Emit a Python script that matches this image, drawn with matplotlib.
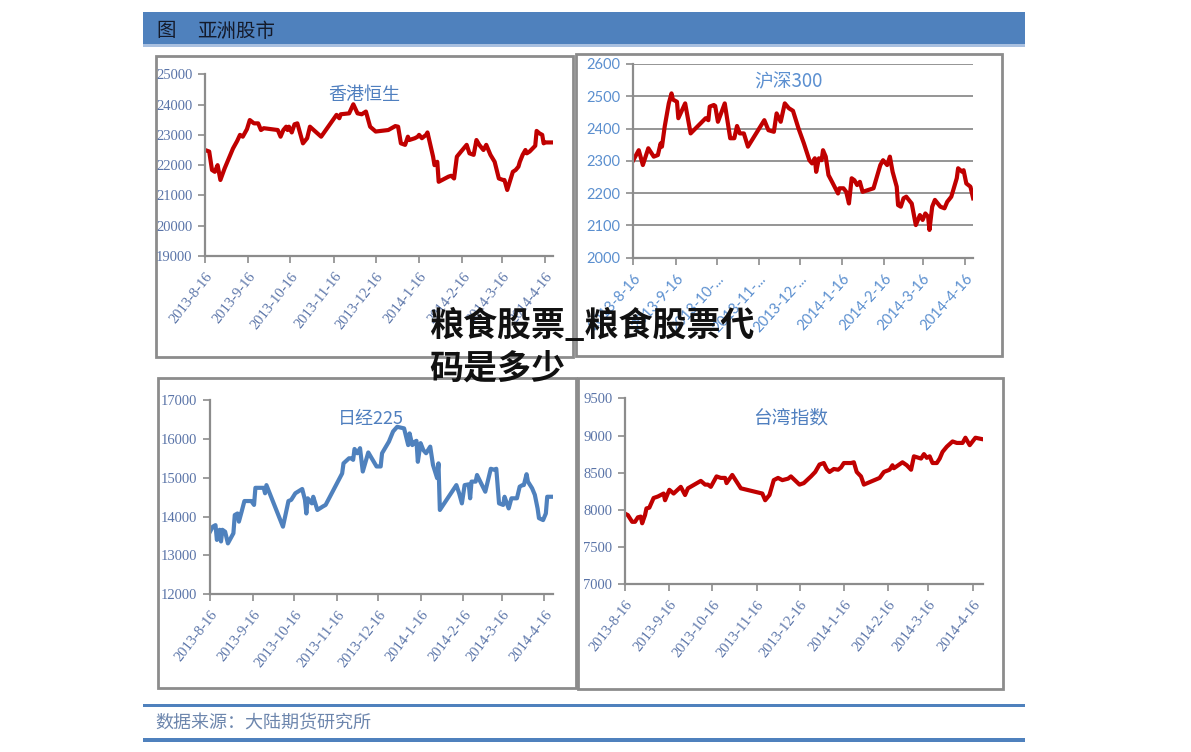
import numpy as np
import matplotlib.pyplot as plt
import matplotlib.dates as mdates
from matplotlib.patches import Rectangle

W, H = 1191, 752
plt.rcParams['font.family'] = ['Noto Sans CJK SC', 'DejaVu Sans']

start = np.datetime64('2013-08-16')
tick_dates = ['2013-08-16', '2013-09-16', '2013-10-16', '2013-11-16', '2013-12-16',
              '2014-01-16', '2014-02-16', '2014-03-16', '2014-04-16']
tick_labels = ['2013-8-16', '2013-9-16', '2013-10-16', '2013-11-16', '2013-12-16',
               '2014-1-16', '2014-2-16', '2014-3-16', '2014-4-16']
hs_tick_labels = ['2013-8-16', '2013-9-16', '2013-10-...', '2013-11-...', '2013-12-...',
                  '2014-1-16', '2014-2-16', '2014-3-16', '2014-4-16']

# days after 2013-08-16
hk_days = [0, 3, 5, 7, 9, 11, 14, 20, 23, 25, 27, 30, 32, 35, 38, 40, 42, 52, 54, 56,
           58, 59, 60, 62, 64, 66, 70, 73, 75, 83, 94, 96, 97, 103, 106, 109, 112, 115, 118, 122,
           131, 136, 138, 140, 143, 145, 146, 150, 152, 153, 155, 158, 159, 163, 164, 166, 167, 174, 176, 178,
           180, 183, 187, 189, 192, 194, 196, 199, 201, 204, 207, 210, 213, 214, 216, 220, 222, 224, 225, 227,
           229, 230, 232, 236, 237, 239, 241, 242, 243, 248]
hk_vals = [22500, 22450, 21840, 21780, 22000, 21510, 21890, 22550, 22800, 23000,
           22940, 23190, 23490, 23380, 23380, 23160, 23220, 23160, 22940, 23160,
           23270, 23160, 23270, 23080, 23350, 23380, 22720, 22890, 23270, 22940,
           23660, 23550, 23680, 23710, 24010, 23710, 23680, 23770, 23270, 23110,
           23160, 23290, 23270, 22720, 22670, 22940, 22830, 22890, 22940, 23000,
           22890, 23000, 23080, 22280, 22000, 22110, 21450, 21620, 21650, 21560,
           22280, 22450, 22670, 22390, 22340, 22830, 22670, 22500, 22670, 22340,
           22110, 21560, 21510, 21510, 21180, 21780, 21840, 21950, 22110, 22340,
           22500, 22390, 22450, 22640, 23130, 23050, 23000, 22720, 22750, 22750]

hs_days = [0, 4, 7, 11, 15, 18, 20, 21, 23, 26, 28, 29, 32, 33, 38, 42, 53, 55, 56, 59,
           60, 62, 67, 71, 74, 76, 78, 81, 84, 96, 99, 103, 105, 108, 111, 114, 117, 121, 125, 129,
           131, 133, 134, 136, 138, 139, 141, 143, 145, 150, 151, 154, 156, 158, 160, 162, 164, 166, 168, 176,
           181, 183, 186, 188, 190, 193, 194, 196, 198, 200, 203, 204, 207, 210, 212, 214, 216, 217, 219, 221,
           225, 228, 230, 233, 237, 238, 241, 242, 244, 247, 249]
hs_vals = [2302, 2333, 2287, 2339, 2313, 2318, 2354, 2344, 2406, 2478,
           2509, 2490, 2483, 2432, 2478, 2385, 2432, 2426, 2468, 2473,
           2470, 2421, 2478, 2370, 2370, 2408, 2385, 2385, 2344, 2426,
           2395, 2390, 2447, 2421, 2478, 2463, 2455, 2401, 2354, 2302,
           2292, 2308, 2266, 2308, 2302, 2333, 2313, 2256, 2240, 2199,
           2215, 2215, 2204, 2168, 2246, 2240, 2225, 2235, 2204, 2215,
           2287, 2302, 2287, 2313, 2266, 2220, 2163, 2158, 2184, 2189,
           2173, 2168, 2101, 2132, 2117, 2137, 2127, 2086, 2158, 2179,
           2158, 2153, 2173, 2189, 2246, 2277, 2266, 2271, 2230, 2220, 2184]

nk_days = [0, 2, 4, 5, 7, 8, 9, 11, 13, 17, 18, 20, 21, 23, 25, 30, 32, 33, 39, 40,
           41, 53, 57, 59, 62, 67, 69, 70, 71, 74, 75, 78, 82, 84, 96, 97, 101, 103, 104, 105,
           107, 109, 111, 115, 121, 124, 125, 130, 133, 136, 141, 144, 145, 147, 149, 150, 151, 153, 155, 157,
           160, 162, 165, 166, 167, 179, 181, 183, 185, 188, 189, 190, 193, 194, 200, 204, 207, 208, 210, 213,
           214, 217, 219, 223, 225, 227, 228, 230, 231, 234, 236, 238, 239, 242, 244, 245, 249]
nk_vals = [13610, 13740, 13780, 13400, 13660, 13360, 13660, 13610, 13310, 13570,
           14040, 14080, 13870, 14130, 14400, 14400, 14300, 14740, 14740, 14600,
           14810, 13740, 14400, 14430, 14600, 14710, 14430, 14080, 14470, 14340,
           14510, 14170, 14260, 14300, 15110, 15370, 15500, 15500, 15460, 15740,
           15630, 15760, 15160, 15650, 15290, 15290, 15630, 15930, 16190, 16310,
           16270, 15840, 16140, 15840, 15930, 15950, 15410, 15890, 15710, 15630,
           15800, 15330, 14990, 15370, 14170, 14810, 14600, 14340, 14810, 14830,
           14470, 14900, 14900, 15070, 14640, 15230, 15200, 15230, 14340, 14300,
           14510, 14210, 14470, 14470, 14770, 14810, 14810, 15090, 14900, 14730,
           14560, 14210, 13960, 13910, 14080, 14510, 14510]

tw_days = [0, 2, 5, 7, 9, 11, 12, 14, 15, 17, 20, 23, 27, 28, 31, 34, 39, 42, 44, 53,
           56, 58, 60, 64, 67, 70, 71, 75, 81, 96, 98, 101, 104, 107, 110, 114, 116, 122, 125, 130,
           133, 136, 139, 141, 143, 146, 149, 151, 153, 158, 160, 162, 165, 167, 178, 181, 185, 187, 188, 191,
           194, 197, 200, 202, 207, 209, 211, 213, 215, 218, 220, 222, 225, 229, 232, 236, 238, 241, 245, 250]
tw_vals = [7950, 7930, 7840, 7840, 7900, 7910, 7820, 7930, 8020, 8030,
           8160, 8180, 8220, 8130, 8270, 8220, 8310, 8200, 8290, 8390,
           8340, 8340, 8310, 8450, 8430, 8430, 8360, 8470, 8290, 8220,
           8130, 8200, 8400, 8430, 8400, 8420, 8450, 8340, 8360, 8450,
           8510, 8610, 8630, 8550, 8510, 8550, 8540, 8570, 8630, 8630,
           8640, 8510, 8450, 8340, 8430, 8510, 8540, 8600, 8560, 8600,
           8640, 8600, 8540, 8720, 8690, 8750, 8700, 8720, 8630, 8630,
           8690, 8780, 8850, 8920, 8900, 8900, 8970, 8870, 8970, 8950]

RED = '#c00000'
BLUE = '#4f81bd'
SPINE = '#8c8c8c'


def fig_rect(x0, y0, x1, y1):
    return [x0 / W, 1 - y1 / H, (x1 - x0) / W, (y1 - y0) / H]


def to_dates(days):
    return start + np.array(days, dtype='timedelta64[D]')


def draw_frame(fig, x0, y0, x1, y1):
    r = Rectangle((x0 / W, 1 - y1 / H), (x1 - x0) / W, (y1 - y0) / H,
                  transform=fig.transFigure, fill=False, edgecolor=SPINE, lw=2, zorder=0)
    fig.add_artist(r)


def panel(fig, box, days, vals, ylim, ystep, right_day, color, labels, serif, grid):
    ax = fig.add_axes(fig_rect(*box))
    ax.set_facecolor('none')
    ax.plot(to_dates(days), vals, color=color, lw=3, solid_joinstyle='round')
    x0 = mdates.date2num(start)
    ax.set_xlim(x0, x0 + right_day)
    ax.set_ylim(*ylim)
    ax.set_yticks(np.arange(ylim[0], ylim[1] + 1, ystep))
    ax.set_xticks(mdates.date2num(np.array(tick_dates, dtype='datetime64[D]')))
    for s in ['top', 'right']:
        ax.spines[s].set_visible(False)
    for s in ['left', 'bottom']:
        ax.spines[s].set_color(SPINE)
        ax.spines[s].set_linewidth(1.6)
    ax.tick_params(direction='out', length=5, width=1.2, color=SPINE)
    if serif:
        font = dict(family='Liberation Serif', size=10.5, color='#5a74a8')
        rot = 52
    else:
        font = dict(family='Lato', size=10.5, color='#5b8fcf')
        rot = 48
    ax.set_xticklabels(labels, rotation=rot, ha='right', va='top',
                       rotation_mode='anchor', **font)
    ax.set_yticklabels([str(v) for v in ax.get_yticks().astype(int)], **font)
    ax.tick_params(axis='y', pad=4)
    ax.tick_params(axis='x', pad=5)
    if grid:
        ax.grid(axis='y', color=SPINE, lw=1.3)
        ax.set_axisbelow(True)
    return ax


fig = plt.figure(figsize=(W / 100, H / 100), dpi=100)
fig.patch.set_facecolor('white')

# header
fig.add_artist(Rectangle((143 / W, 1 - 44 / H), 882 / W, 32 / H, transform=fig.transFigure,
                         facecolor='#4f81bd', edgecolor='none'))
fig.add_artist(Rectangle((143 / W, 1 - 47 / H), 882 / W, 3 / H, transform=fig.transFigure,
                         facecolor='#a9c0e0', edgecolor='none'))
fig.text(156 / W, 1 - 31 / H, '图', fontsize=14, color='#141a2a', va='center')
fig.text(197 / W, 1 - 31 / H, '亚洲股市', fontsize=14, color='#141a2a', va='center')

# frames
draw_frame(fig, 156, 56, 573, 357)
draw_frame(fig, 576, 54, 1002, 356)
draw_frame(fig, 158, 378, 576, 688)
draw_frame(fig, 578, 378, 1003, 689)

panel(fig, (205, 74.3, 553, 256), hk_days, hk_vals, (19000, 25000), 1000, 248.7,
      RED, tick_labels, True, False)
panel(fig, (633.3, 64, 973, 257.7), hs_days, hs_vals, (2000, 2600), 100, 248.9,
      RED, hs_tick_labels, False, True)
panel(fig, (210, 400, 553, 594.3), nk_days, nk_vals, (12000, 17000), 1000, 249.2,
      BLUE, tick_labels, True, False)
panel(fig, (625, 398.3, 983.3, 584.3), tw_days, tw_vals, (7000, 9500), 500, 250.5,
      RED, tick_labels, True, False)

# panel titles
fig.text(364 / W, 1 - 95 / H, '香港恒生', fontsize=13, color='#4f7fbf', ha='center', va='center')
fig.text(788 / W, 1 - 82 / H, '沪深300', fontsize=13.5, color='#5b8fd0', ha='center', va='center')
fig.text(371 / W, 1 - 419 / H, '日经225', fontsize=13, color='#4f7fbf', ha='center', va='center')
fig.text(791 / W, 1 - 418 / H, '台湾指数', fontsize=13.5, color='#4f7fbf', ha='center', va='center')

# footer
fig.add_artist(Rectangle((143 / W, 1 - 707 / H), 882 / W, 3 / H, transform=fig.transFigure,
                         facecolor='#4f81bd', edgecolor='none'))
fig.add_artist(Rectangle((143 / W, 1 - 742 / H), 882 / W, 4 / H, transform=fig.transFigure,
                         facecolor='#4f81bd', edgecolor='none'))
fig.text(155 / W, 1 - 723 / H, '数据来源：大陆期货研究所', fontsize=13, color='#6d86ad', va='center')

# overlay title
fig.text(429 / W, 1 - 325 / H, '粮食股票_粮食股票代', fontsize=24.5, fontweight='black',
         color='#111111', va='center', zorder=10)
fig.text(429 / W, 1 - 368 / H, '码是多少', fontsize=24.5, fontweight='black',
         color='#111111', va='center', zorder=10)

fig.savefig('out.png', dpi=100)
